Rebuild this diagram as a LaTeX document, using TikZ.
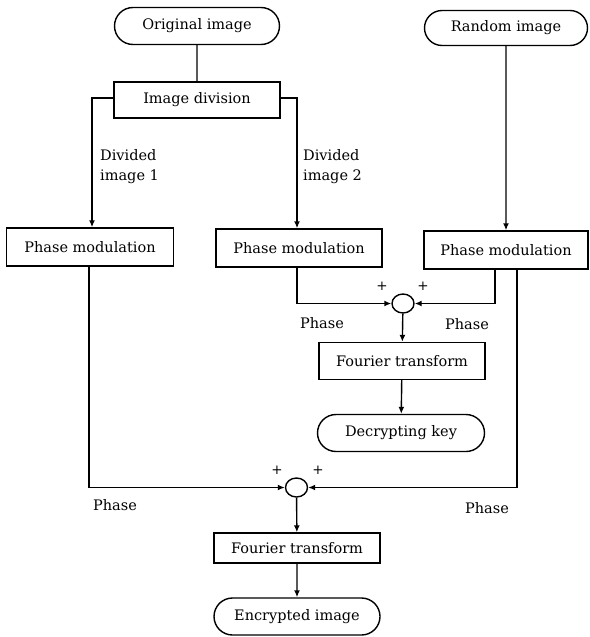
\documentclass[tikz,border=0pt]{standalone}
\usepackage{fontspec}
\setmainfont{DejaVu Serif}
\usetikzlibrary{arrows.meta,shapes.misc,shapes.geometric}
\begin{document}
\begin{tikzpicture}[x=1pt,y=-1pt,
  every node/.style={font=\fontsize{14.5}{20}\selectfont},
  box/.style={draw,line width=1.4pt,rectangle,inner sep=0pt,minimum height=37pt},
  term/.style={draw,line width=1.4pt,rounded rectangle,inner sep=0pt,minimum height=37pt},
  sumc/.style={draw,line width=1.4pt,ellipse,inner sep=0pt,minimum width=22pt,minimum height=19pt},
  conn/.style={line width=1.4pt},
  arr/.style={conn,-{Latex[length=7pt,width=6pt]}},
  lbl/.style={inner sep=0pt},
  plus/.style={inner sep=0pt,font=\fontsize{13.5}{14}\selectfont},
]
\useasboundingbox (0,0) rectangle (589,637);
\node[term,minimum width=165pt] (orig) at (197,26) {Original image};
\node[term,minimum width=163pt,minimum height=35pt] (rand) at (506,28) {Random image};
\node[box,minimum width=166pt,minimum height=36pt] (div) at (197,100) {Image division};
\node[box,minimum width=167pt,minimum height=38pt] (pm1) at (90,247) {Phase modulation};
\node[box,minimum width=166pt,minimum height=38pt] (pm2) at (299,248) {Phase modulation};
\node[box,minimum width=164pt,minimum height=38pt] (pm3) at (506,250) {Phase modulation};
\node[sumc] (s1) at (403,303.5) {};
\node[box,minimum width=166pt] (ft1) at (402,361) {Fourier transform};
\node[term,minimum width=167pt] (key) at (401,433) {Decrypting key};
\node[sumc] (s2) at (296.5,487.5) {};
\node[box,minimum width=166pt,minimum height=30pt] (ft2) at (297,548) {Fourier transform};
\node[term,minimum width=166pt] (enc) at (297,616.5) {Encrypted image};

\node[lbl,anchor=north west,align=left] (d1) at (100,149) {Divided\\image 1};
\node[lbl,anchor=north west,align=left] (d2) at (303,149) {Divided\\image 2};
\node[plus] (p1a) at (382,286) {+};
\node[plus] (p1b) at (423,286) {+};
\node[plus] (p2a) at (277,470) {+};
\node[plus] (p2b) at (318,470) {+};
\node[lbl] (ph1) at (322,323) {Phase};
\node[lbl] (ph2) at (467,324) {Phase};
\node[lbl] (ph3) at (115,505) {Phase};
\node[lbl] (ph4) at (487,508) {Phase};

\draw[conn] (orig) -- (div);
\draw[arr] ([yshift=2pt]div.west) -| ([xshift=2pt]pm1.north);
\draw[arr] ([yshift=2pt]div.east) -| ([xshift=-2pt]pm2.north);
\draw[arr] (rand) -- (pm3);
\draw[arr] ([xshift=-2pt]pm2.south) |- (s1.west);
\draw[arr] ([xshift=-11pt]pm3.south) |- (s1.east);
\draw[arr] ([xshift=11pt]pm3.south) |- (s2.east);
\draw[arr] ([xshift=-1pt]pm1.south) |- (s2.west);
\draw[arr] (s1) -- (ft1);
\draw[arr] (ft1) -- (key);
\draw[arr] (s2) -- (ft2);
\draw[arr] (ft2) -- (enc);
\end{tikzpicture}
\end{document}
